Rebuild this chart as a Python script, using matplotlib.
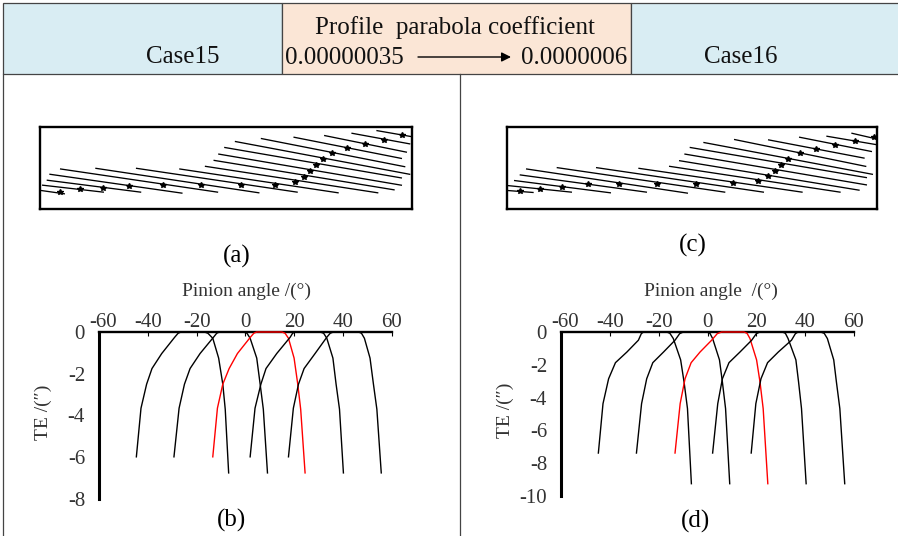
import matplotlib
matplotlib.use('Agg')
import matplotlib.pyplot as plt
from matplotlib.patches import Rectangle
from matplotlib.transforms import ScaledTranslation

plt.rcParams['font.family'] = ['Liberation Serif', 'DejaVu Serif']
plt.rcParams['axes.unicode_minus'] = False

W, H = 898, 536

# TE curves
te_b = [-5.98, -3.65, -2.5, -1.75, -1.03, -0.25, -0.06, 0, 0, -0.06, -0.3, -1.25, -2.5, -3.7, -6.75]
angle_b1 = [-44.7, -42.8, -40.5, -38.3, -34.3, -29.0, -27.6, -26.4, -16.8, -15.4, -13.4, -11.0, -9.3, -8.3, -6.9]
angle_b2 = [-29.3, -27.2, -25.0, -22.7, -18.6, -13.1, -11.8, -10.7, -0.8, 0.6, 1.9, 4.6, 6.0, 7.3, 9.0]
angle_b3 = [-13.4, -11.5, -9.3, -6.7, -3.3, 2.0, 3.4, 4.6, 14.9, 16.2, 17.6, 19.9, 21.4, 22.6, 24.4]
angle_b4 = [1.9, 3.9, 6.3, 8.4, 12.8, 18.3, 19.3, 20.3, 30.6, 32.0, 33.3, 35.8, 37.1, 38.5, 40.1]
angle_b5 = [17.6, 19.6, 21.7, 24.0, 28.5, 33.3, 34.7, 36.0, 46.3, 47.5, 48.7, 51.0, 52.4, 53.8, 55.6]

te_d = [-7.38, -4.37, -2.85, -1.87, -1.22, -0.5, -0.1, 0, 0, -0.08, -0.4, -1.7, -3.05, -4.67, -9.25]
angle_d1 = [-44.7, -42.8, -40.5, -37.7, -33.0, -28.3, -27.1, -26.2, -16.7, -15.4, -14.0, -11.0, -9.6, -8.2, -6.6]
angle_d2 = [-29.1, -27.0, -24.9, -22.4, -18.0, -13.3, -11.4, -9.9, -0.3, 1.0, 2.1, 4.9, 6.1, 7.4, 9.1]
angle_d3 = [-13.3, -11.2, -9.2, -6.7, -3.05, 1.7, 4.0, 5.8, 14.9, 16.2, 17.4, 20.1, 21.5, 22.8, 24.7]
angle_d4 = [2.1, 4.2, 6.1, 8.8, 13.3, 18.1, 20.0, 21.5, 30.7, 31.9, 33.0, 36.2, 37.3, 38.5, 40.4]
angle_d5 = [17.9, 19.8, 21.9, 24.6, 29.0, 34.4, 36.0, 37.1, 46.3, 47.8, 49.1, 51.7, 52.8, 54.2, 56.2]

x_ticks = [-60, -40, -20, 0, 20, 40, 60]
y_ticks_b = [0, -2, -4, -6, -8]
y_ticks_d = [0, -2, -4, -6, -8, -10]

# contact lines and path points on the tooth flank (digitised units)
a_x0 = [33, 38, 52, 60, 92, 198, 320, 450, 527, 553, 567, 585, 617, 695, 793, 885, 967, 1042]
a_y0 = [227, 211, 196, 178, 162, 160, 160, 162, 154, 136, 117, 97, 79, 70, 66, 61, 54, 46]
a_x1 = [103, 220, 332, 456, 563, 687, 802, 925, 1044, 1093, 1115, 1115, 1140, 1125, 1115, 1130, 1140, 1145]
a_y1 = [237, 232, 232, 235, 232, 234, 232, 234, 234, 225, 211, 189, 178, 155, 130, 111, 86, 64]
a_px = [90, 150, 218, 296, 398, 514, 633, 735, 795, 824, 840, 860, 879, 907, 953, 1005, 1063, 1117]
a_py = [232, 224, 218, 213, 211, 211, 210, 209, 200, 185, 169, 151, 131, 115, 100, 87, 73, 59]

c_x0 = [38, 38, 60, 77, 96, 188, 306, 433, 525, 555, 571, 587, 628, 720, 822, 915, 997, 1072]
c_y0 = [227, 212, 197, 180, 162, 158, 158, 160, 154, 137, 117, 97, 82, 73, 74, 66, 63, 54]
c_x1 = [115, 230, 347, 455, 578, 690, 806, 922, 1036, 1093, 1115, 1115, 1133, 1113, 1108, 1130, 1143, 1145]
c_y1 = [233, 232, 234, 232, 235, 232, 232, 232, 232, 226, 210, 188, 178, 154, 129, 109, 88, 71]
c_px = [75, 135, 203, 280, 373, 488, 603, 716, 790, 821, 840, 860, 879, 915, 965, 1020, 1081, 1138]
c_py = [229, 222, 215, 208, 207, 207, 206, 205, 197, 184, 168, 151, 131, 115, 101, 88, 78, 66]


def px_axes(left, top, right, bottom):
    return fig.add_axes([left / W, 1 - bottom / H, (right - left) / W, (bottom - top) / H])


def flank(box, x0, y0, x1, y1, px, py, xlim):
    ax = px_axes(*box)
    for i in range(len(x0)):
        ax.plot([x0[i], x1[i]], [y0[i], y1[i]], color='black', lw=0.95, clip_on=True)
    ax.plot(px, py, ls='none', marker='*', ms=4, color='black', mew=1.0)
    ax.set_xlim(*xlim)
    ax.set_ylim(283, 35)
    ax.set_xticks([])
    ax.set_yticks([])
    for s in ax.spines.values():
        s.set_linewidth(1.7)
    return ax


def te_plot(box, curves, te, ylim, yticks):
    ax = px_axes(*box)
    for i, angle in enumerate(curves):
        ax.plot(angle, te, color='red' if i == 2 else 'black', lw=1.0, clip_on=False, zorder=3)
    ax.set_xlim(-60, 60)
    ax.set_ylim(ylim, 0)
    ax.set_xticks(x_ticks)
    ax.set_yticks(yticks)
    ax.xaxis.tick_top()
    ax.tick_params(axis='x', direction='in', length=3, width=0.8, pad=0, labelsize=15, labelcolor='#333333')
    ax.tick_params(axis='y', length=0, pad=10, labelsize=15, labelcolor='#333333')
    # the -60 label sits a little to the right of its tick in the original
    lab = ax.get_xticklabels()[0]
    lab.set_transform(lab.get_transform() + ScaledTranslation(4 / 100, 0, fig.dpi_scale_trans))
    ax.spines['right'].set_visible(False)
    ax.spines['bottom'].set_visible(False)
    ax.spines['left'].set_linewidth(2.2)
    ax.spines['top'].set_linewidth(1.7)
    ax.patch.set_alpha(0)
    return ax


fig = plt.figure(figsize=(W / 100, H / 100), dpi=100)

# page layer in pixel coordinates for the header band and labels
bg = fig.add_axes([0, 0, 1, 1])
bg.set_xlim(0, W)
bg.set_ylim(H, 0)
bg.axis('off')
edge = '#444444'
bg.add_patch(Rectangle((3, 3), 279, 71, fc='#D9EDF3', ec=edge, lw=0.9))
bg.add_patch(Rectangle((282, 3), 349, 71, fc='#FBE6D6', ec=edge, lw=0.9))
bg.add_patch(Rectangle((631, 3), 270, 71, fc='#D9EDF3', ec=edge, lw=0.9))
bg.plot([3, 3], [74, 536], color=edge, lw=0.9)
bg.plot([460, 460], [74, 536], color=edge, lw=0.9)

bg.text(183, 57, 'Case15', fontsize=18, ha='center', va='center', color='#111111')
bg.text(741, 57, 'Case16', fontsize=18, ha='center', va='center', color='#111111')
bg.text(455, 28, 'Profile  parabola coefficient', fontsize=18, ha='center', va='center', color='#111111')
bg.text(285, 58, '0.00000035', fontsize=18, ha='left', va='center', color='#111111')
bg.text(627, 58, '0.0000006', fontsize=18, ha='right', va='center', color='#111111')
bg.annotate('', xy=(511, 57), xytext=(418, 57),
            arrowprops=dict(arrowstyle='-|>', color='black', lw=1.0, shrinkA=0, shrinkB=0, mutation_scale=14))

bg.text(237, 256, '(a)', fontsize=18, ha='center', va='center')
bg.text(693, 245, '(c)', fontsize=18, ha='center', va='center')
bg.text(232, 520, '(b)', fontsize=18, ha='center', va='center')
bg.text(695, 521, '(d)', fontsize=18, ha='center', va='center')
bg.text(247, 291, 'Pinion angle /(°)', fontsize=14, ha='center', va='center', color='#333333')
bg.text(711, 291, 'Pinion angle  /(°)', fontsize=14, ha='center', va='center', color='#333333')
bg.text(43, 412, 'TE /(″)', fontsize=14, rotation=90, ha='center', va='center', color='#333333')
bg.text(505, 410, 'TE /(″)', fontsize=14, rotation=90, ha='center', va='center', color='#333333')

flank((40, 127, 412, 209), a_x0, a_y0, a_x1, a_y1, a_px, a_py, (30, 1147))
flank((507, 127, 877, 209), c_x0, c_y0, c_x1, c_y1, c_px, c_py, (37, 1147))

te_plot((99, 332, 392, 499), [angle_b1, angle_b2, angle_b3, angle_b4, angle_b5], te_b, -8, y_ticks_b)
te_plot((561, 332, 854, 496), [angle_d1, angle_d2, angle_d3, angle_d4, angle_d5], te_d, -10, y_ticks_d)

fig.savefig('out.png', dpi=100)
